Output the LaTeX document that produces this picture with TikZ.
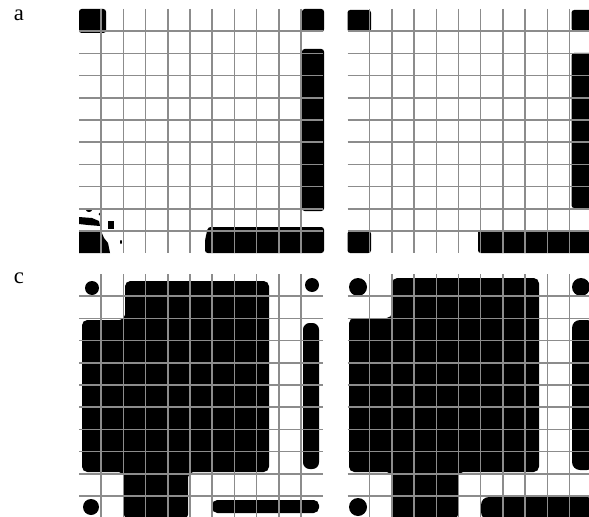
\documentclass[tikz,border=0pt]{standalone}
\usepackage{fontspec}
\setmainfont{Liberation Serif}

\begin{document}
\begin{tikzpicture}[x=0.75pt,y=-0.75pt,font=\fontsize{17}{20}\selectfont,
    gridline/.style={draw=black!45,line width=1.1pt},
    blob/.style={fill=black,rounded corners=2pt}]
    \useasboundingbox (0,0) rectangle (589,517);
    \clip (0,0) rectangle (589,517);

    \node (label-a) at (19,15) {a};
    \node (label-c) at (19,278) {c};

    % panel a
    \fill[blob] (79,9) rectangle (106,33);
    \fill[blob] (302,9) rectangle (324,32);
    \fill[blob] (302,49) rectangle (324,211);
    \fill[blob] (208,227) -- (324,227) -- (324,253) -- (205,253)
        -- (205,240) -- cycle;
    \fill (79,231) -- (101,231) -- (104,238) -- (108,243) -- (110,253)
        -- (79,253) -- cycle;
    \fill (79,217) -- (92,218) -- (99,221) -- (100,226) -- (88,225)
        -- (79,224) -- cycle;
    \fill (89,210) ellipse (3 and 2);
    \fill (108,221) rectangle (114,229);
    \fill (100,214) ellipse (1.5 and 1.5);
    \fill (121,242) ellipse (1 and 2);

    % panel b
    \fill[blob] (347.5,10) rectangle (371,32);
    \fill[blob] (571.5,10) rectangle (592,31);
    \fill[blob] (571.5,53) rectangle (592,208);
    \fill[blob] (347.5,231) rectangle (371,253);
    \fill[blob] (478,230) rectangle (592,253);

    % panel c
    \fill (92,288) circle (7);
    \fill (312,285) circle (7);
    \fill (91,507) circle (8);
    \fill[rounded corners=4pt] (125,281) -- (269,281) -- (269,472)
        -- (188,472) -- (188,520) -- (124,520) -- (124,472) -- (82,472)
        -- (82,320) -- (125,320) -- cycle;
    \fill[rounded corners=5pt] (303,323) rectangle (319,469);
    \fill[rounded corners=4pt] (212,500) rectangle (319,513);

    % panel d
    \fill (358,287) circle (9);
    \fill (581,287) circle (9);
    \fill (358,507) circle (9);
    \fill[rounded corners=4pt] (392,278) -- (539,278) -- (539,472)
        -- (458,472) -- (458,520) -- (392,520) -- (392,472) -- (349,472)
        -- (349,318) -- (392,318) -- cycle;
    \fill[rounded corners=6pt] (572,320) rectangle (595,470);
    \fill[rounded corners=6pt] (481,497) rectangle (595,520);

    % grids
    \foreach \ox/\oy in {79/9, 347.5/9, 79/274, 347.5/274} {
        \foreach \k in {1,...,10} {
            \draw[gridline] (\ox+22.2*\k,\oy) -- (\ox+22.2*\k,\oy+244);
            \draw[gridline] (\ox,\oy+22.2*\k) -- (\ox+244,\oy+22.2*\k);
        }
    }
\end{tikzpicture}
\end{document}
